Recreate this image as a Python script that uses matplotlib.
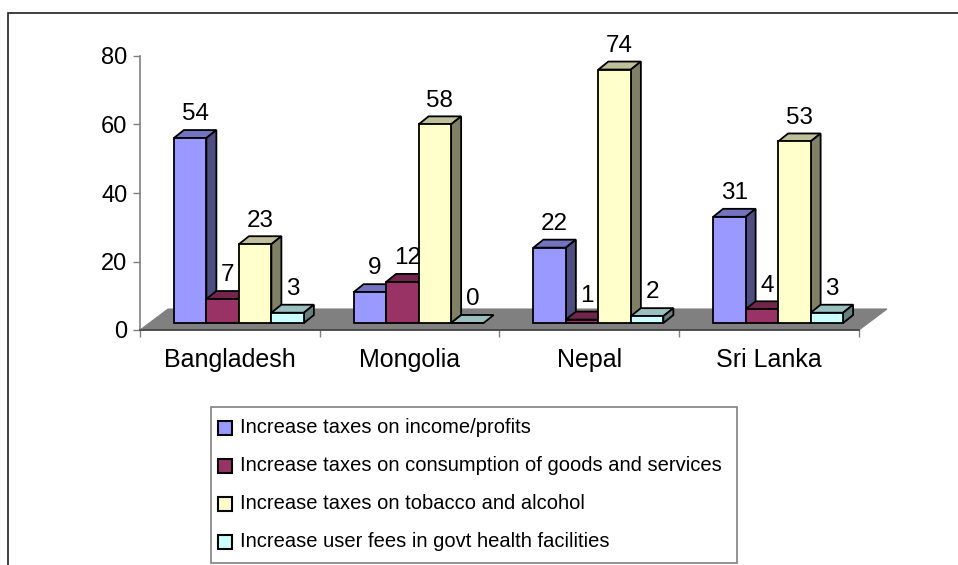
import numpy as np
import matplotlib
matplotlib.use("Agg")
import matplotlib.pyplot as plt
from matplotlib.patches import Polygon, Rectangle

plt.rcParams['font.family'] = ['Liberation Sans', 'DejaVu Sans']

# data
countries = ["Bangladesh", "Mongolia", "Nepal", "Sri Lanka"]
series_names = [
    "Increase taxes on income/profits",
    "Increase taxes on consumption of goods and services",
    "Increase taxes on tobacco and alcohol",
    "Increase user fees in govt health facilities",
]
income_profits = [54, 9, 22, 31]
consumption = [7, 12, 1, 4]
tobacco_alcohol = [23, 58, 74, 53]
user_fees = [3, 0, 2, 3]
series_values = [income_profits, consumption, tobacco_alcohol, user_fees]

# colours: front, top, side
front_cols = ["#9999FF", "#993366", "#FFFFCC", "#CCFFFF"]
top_cols = ["#7373BF", "#73264D", "#BFBF99", "#99BFBF"]
side_cols = ["#4D4D80", "#4D1A33", "#808066", "#668080"]

W, H = 958, 565
fig = plt.figure(figsize=(W / 100, H / 100), dpi=100)

# axes placed where the plot area sits in the picture
ax_l, ax_r, ax_t, ax_b = 140, 859, 56, 330
ax = fig.add_axes([ax_l / W, 1 - ax_b / H, (ax_r - ax_l) / W, (ax_b - ax_t) / H])
ax.set_xlim(-0.5, 3.5)
ax.set_ylim(0, 80)

px_x = (ax_r - ax_l) / 4.0   # pixels per category
px_y = (ax_b - ax_t) / 80.0  # pixels per value unit

# 3d offsets (in data units)
floor_dx, floor_dy = 28 / px_x, 21 / px_y
bar_dx, bar_dy = 10 / px_x, 8 / px_y
base_y = 7 / px_y
shift_x = 9 / px_x
bw = 32.5 / px_x

# floor
ax.add_patch(Polygon([(-0.5, 0), (3.5, 0), (3.5 + floor_dx, floor_dy), (-0.5 + floor_dx, floor_dy)],
                     closed=True, facecolor="#808080", edgecolor="#808080", lw=0.8, zorder=1, clip_on=False))

x = np.arange(len(countries))
for j, vals in enumerate(series_values):
    centers = x + (j - 1.5) * bw + shift_x
    z = 3 + j
    ax.bar(centers, vals, width=bw, bottom=base_y, color=front_cols[j], edgecolor="black",
           linewidth=1.3, zorder=z + 0.5, clip_on=False)
    for c, v in zip(centers, vals):
        x0 = c - bw / 2
        t = base_y + v
        ax.add_patch(Polygon([(x0, t), (x0 + bw, t), (x0 + bw + bar_dx, t + bar_dy), (x0 + bar_dx, t + bar_dy)],
                             closed=True, facecolor=top_cols[j], edgecolor="black", lw=1.3, zorder=z, clip_on=False))
        if v > 0:
            ax.add_patch(Polygon([(x0 + bw, base_y), (x0 + bw + bar_dx, base_y + bar_dy),
                                  (x0 + bw + bar_dx, t + bar_dy), (x0 + bw, t)],
                                 closed=True, facecolor=side_cols[j], edgecolor="black", lw=1.3, zorder=z, clip_on=False))
        ax.annotate(str(v), (c + bar_dx / 2, t + bar_dy), xytext=(0, 7), textcoords="offset points",
                    ha="center", va="baseline", fontsize=17.5, zorder=10, annotation_clip=False)

# axes styling
for s in ["top", "right"]:
    ax.spines[s].set_visible(False)
ax.spines["left"].set_color("#808080")
ax.spines["left"].set_linewidth(1.2)
ax.spines["bottom"].set_color("#404040")
ax.spines["bottom"].set_linewidth(1.2)
ax.set_yticks([0, 20, 40, 60, 80])
ax.tick_params(axis="y", labelsize=17, length=5, width=1, color="#808080", pad=4)
ax.set_xticks(x)
ax.set_xticklabels(countries)
ax.set_xticks(np.arange(-0.5, 4, 1), minor=True)
ax.tick_params(axis="x", which="major", length=0, labelsize=18, pad=13)
ax.tick_params(axis="x", which="minor", length=5, width=1, color="#808080")

# outer frame of the chart area
fig.patches.append(Rectangle((8 / W, -0.1), 1.2, 1 - 13 / H + 0.1, transform=fig.transFigure,
                             fill=False, edgecolor="#202020", lw=1.2, zorder=0))

# legend box
lg_l, lg_t, lg_r, lg_b = 211, 407, 737, 563
fig.patches.append(Rectangle((lg_l / W, 1 - lg_b / H), (lg_r - lg_l) / W, (lg_b - lg_t) / H,
                             transform=fig.transFigure, facecolor="white", edgecolor="#808080", lw=1.2, zorder=1))
row_y = [427.5, 465.5, 503.5, 541.5]
for j, name in enumerate(series_names):
    yc = row_y[j]
    fig.patches.append(Rectangle((218 / W, 1 - (yc + 7) / H), 14 / W, 14 / H, transform=fig.transFigure,
                                 facecolor=front_cols[j], edgecolor="black", lw=1.5, zorder=2))
    fig.text(240 / W, 1 - yc / H, name, fontsize=14.5, va="center", ha="left")

fig.savefig("out.png", dpi=100, facecolor="white")
